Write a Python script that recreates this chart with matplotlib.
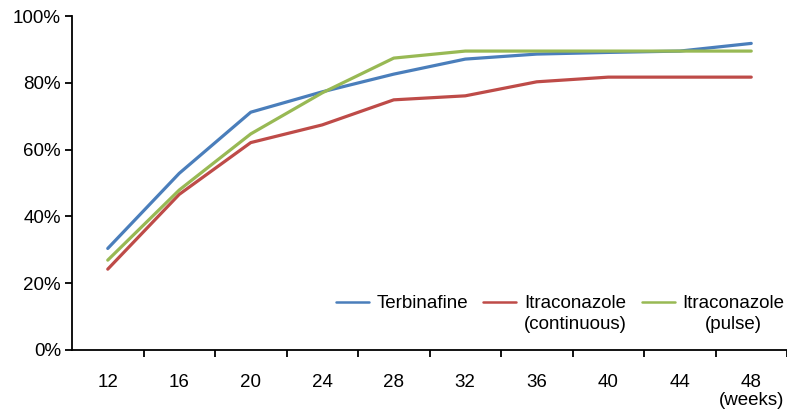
import matplotlib
matplotlib.use("Agg")
import matplotlib.pyplot as plt
from matplotlib.ticker import FixedLocator, PercentFormatter

plt.rcParams['font.family'] = ['Liberation Sans', 'DejaVu Sans']

weeks = [12, 16, 20, 24, 28, 32, 36, 40, 44, 48]
terbinafine = [30.4, 52.9, 71.2, 77.3, 82.6, 87.1, 88.6, 89.1, 89.5, 91.8]
itra_continuous = [24.2, 46.6, 62.1, 67.4, 74.9, 76.1, 80.3, 81.7, 81.7, 81.7]
itra_pulse = [26.9, 47.9, 64.7, 77.0, 87.4, 89.5, 89.5, 89.5, 89.5, 89.5]

labels = ["Terbinafine\n ", "Itraconazole\n(continuous)", "Itraconazole\n(pulse)"]
colors = ["#4A7EBB", "#BE4B48", "#98B954"]

fs = 13.5

fig = plt.figure(figsize=(7.87, 4.16), dpi=100)
ax = fig.add_axes([0.0915, 0.1587, 0.9085, 0.8028])

x = list(range(len(weeks)))
for series, lab, col in zip([terbinafine, itra_continuous, itra_pulse], labels, colors):
    ax.plot(x, series, color=col, lw=2.3, label=lab, solid_capstyle='round')

ax.set_xlim(-0.5, len(weeks) - 0.5)
ax.set_ylim(0, 100)
ax.yaxis.set_major_locator(FixedLocator([0, 20, 40, 60, 80, 100]))
ax.yaxis.set_major_formatter(PercentFormatter(decimals=0))
ax.set_xticks(x)
ax.set_xticklabels([str(w) for w in weeks])
ax.xaxis.set_minor_locator(FixedLocator([i + 0.5 for i in range(len(weeks))]))
ax.tick_params(axis='x', which='major', length=0, pad=17, labelsize=fs)
ax.tick_params(axis='x', which='minor', length=5, width=1.3, direction='out')
ax.tick_params(axis='y', length=5, width=1.3, direction='out', pad=3, labelsize=fs)

for s in ['top', 'right']:
    ax.spines[s].set_visible(False)
for s in ['left', 'bottom']:
    ax.spines[s].set_linewidth(1.3)

ax.text(len(weeks) - 1, -0.125, "(weeks)", transform=ax.get_xaxis_transform(),
        ha='center', va='top', fontsize=fs)

leg = ax.legend(loc='lower right', bbox_to_anchor=(0.996, 0.05), ncol=3, frameon=False,
                fontsize=fs, handlelength=1.76, handleheight=1.0, handletextpad=0.4,
                columnspacing=0.8, borderaxespad=0.0, borderpad=0.0)
for t in leg.get_texts():
    t.set_multialignment('center')
    t.set_linespacing(1.35)
for h in leg.get_lines():
    h.set_linewidth(1.8)
# line handles next to the first line of each label
leg._legend_handle_box.align = 'top'
for col in leg._legend_handle_box.get_children():
    for item in col.get_children():
        item.align = 'top'

fig.savefig("out.png", dpi=100)
